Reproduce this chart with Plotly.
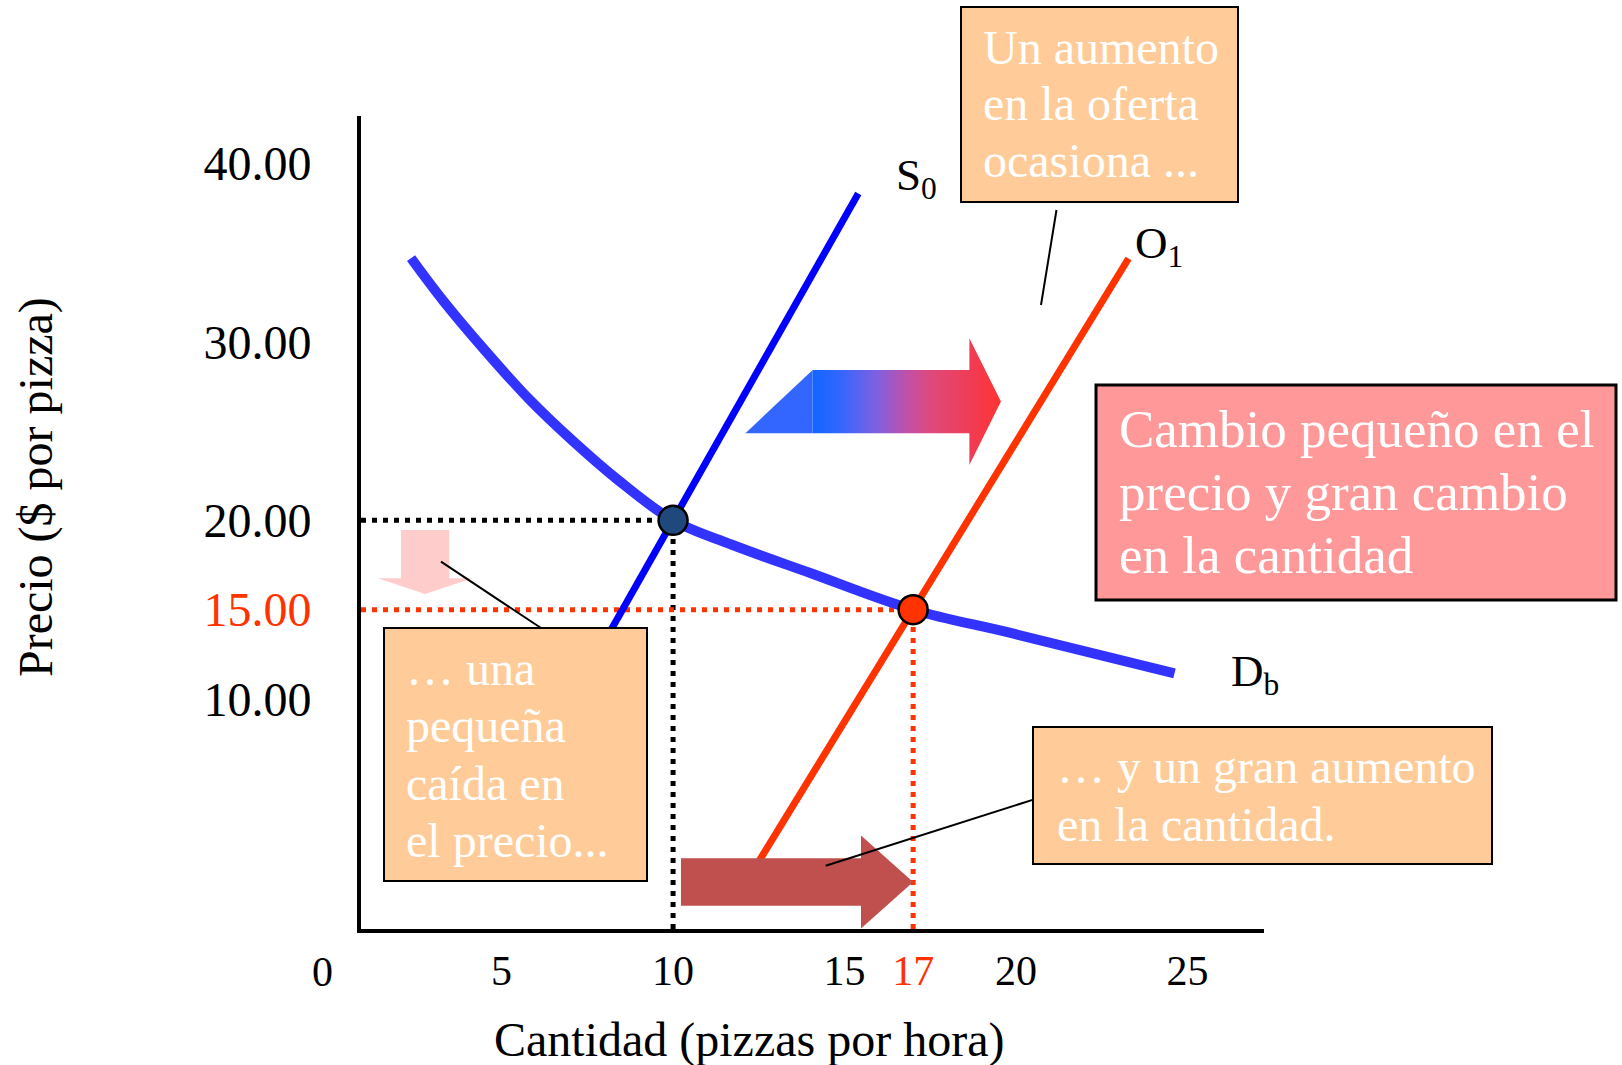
import plotly.graph_objects as go

# ---------------- data ----------------
Q_TICKS = [5, 10, 15, 17, 20, 25]
Q_TICK_LABELS = ["5", "10", "15", "17", "20", "25"]
P_TICKS = [10, 15, 20, 30, 40]
P_TICK_LABELS = ["10.00", "15.00", "20.00", "30.00", "40.00"]

# supply S0 (before), supply O1 (after)
S0_Q = [7.64, 15.4]
S0_P = [12.0, 38.3]
O1_Q = [12.37, 23.28]
O1_P = [0.5, 34.66]

# demand Db
D_Q = [2.36, 3.30, 4.56, 5.82, 7.08, 8.35, 10, 11.7, 14.0, 17, 19.90, 24.62]
D_P = [34.68, 32.29, 29.42, 26.75, 24.44, 22.33, 20, 18.65, 17.05, 15, 13.67, 11.44]

# equilibria
EQ_Q = [10, 17]
EQ_P = [20, 15]

# ---------------- layout geometry ----------------
W, H = 1622, 1065
L, R, T, B = 361, 1264, 116, 929
X_RANGE = [0.901, 27.23]
Y_RANGE = [-2.878, 42.64]

SERIF = "Times New Roman, Liberation Serif, serif"
RED = "#FF3300"


def px(xp):
    return (xp - L) / (R - L)


def py(yp):
    return (B - yp) / (B - T)


fig = go.Figure()

# dotted guide lines
dot = "5px,6px"
fig.add_trace(go.Scatter(x=[X_RANGE[0], EQ_Q[0]], y=[EQ_P[0], EQ_P[0]], mode="lines",
                         line=dict(color="black", width=5, dash=dot), hoverinfo="skip"))
fig.add_trace(go.Scatter(x=[EQ_Q[0], EQ_Q[0]], y=[Y_RANGE[0], EQ_P[0]], mode="lines",
                         line=dict(color="black", width=5, dash=dot), hoverinfo="skip"))
fig.add_trace(go.Scatter(x=[X_RANGE[0], EQ_Q[1]], y=[EQ_P[1], EQ_P[1]], mode="lines",
                         line=dict(color=RED, width=5, dash=dot), hoverinfo="skip"))
fig.add_trace(go.Scatter(x=[EQ_Q[1], EQ_Q[1]], y=[Y_RANGE[0], EQ_P[1]], mode="lines",
                         line=dict(color=RED, width=5, dash=dot), hoverinfo="skip"))

# curves
fig.add_trace(go.Scatter(x=D_Q, y=D_P, mode="lines", line=dict(color="#3333FF", width=10, shape="spline"),
                         name="Db"))
fig.add_trace(go.Scatter(x=S0_Q, y=S0_P, mode="lines", line=dict(color="#0000FF", width=7), name="S0"))
fig.add_trace(go.Scatter(x=O1_Q, y=O1_P, mode="lines", line=dict(color=RED, width=7), name="O1"))

# equilibrium points
fig.add_trace(go.Scatter(x=EQ_Q, y=EQ_P, mode="markers",
                         marker=dict(size=29, color=["#1F497D", RED], line=dict(color="black", width=2.5)),
                         name="eq"))

# quantity-change arrow (dark red)
qa_x0, qa_head, qa_tip = EQ_Q[0] + 0.23, 15.48, EQ_Q[1]
qa_yc, qa_hb, qa_hh = -0.25, 1.33, 2.6
fig.add_trace(go.Scatter(
    x=[qa_x0, qa_head, qa_head, qa_tip, qa_head, qa_head, qa_x0, qa_x0],
    y=[qa_yc + qa_hb, qa_yc + qa_hb, qa_yc + qa_hh, qa_yc, qa_yc - qa_hh, qa_yc - qa_hb, qa_yc - qa_hb,
       qa_yc + qa_hb],
    mode="lines", fill="toself", fillcolor="#C0504D", line=dict(width=0), hoverinfo="skip"))

# price-change arrow (pink, downward)
pa_xc, pa_hb, pa_hh = 2.77, 0.705, 1.38
pa_top, pa_head, pa_tip = EQ_P[0] - 0.54, 16.76, EQ_P[1] + 0.88
fig.add_trace(go.Scatter(
    x=[pa_xc - pa_hb, pa_xc + pa_hb, pa_xc + pa_hb, pa_xc + pa_hh, pa_xc, pa_xc - pa_hh, pa_xc - pa_hb,
       pa_xc - pa_hb],
    y=[pa_top, pa_top, pa_head, pa_head, pa_tip, pa_head, pa_head, pa_top],
    mode="lines", fill="toself", fillcolor="#FFCCCC", line=dict(width=0), hoverinfo="skip"))

# supply-shift arrow (gradient)
sa_left, sa_x0, sa_head, sa_tip = 12.11, 14.07, 18.64, 19.56
sa_yc, sa_hb, sa_hh = 26.65, 1.77, 3.55
fig.add_trace(go.Scatter(
    x=[sa_left, sa_x0, sa_x0, sa_left], y=[sa_yc - sa_hb, sa_yc + sa_hb, sa_yc - sa_hb, sa_yc - sa_hb],
    mode="lines", fill="toself", fillcolor="#3366FF", line=dict(width=0), hoverinfo="skip"))
fig.add_trace(go.Scatter(
    x=[sa_x0, sa_head, sa_head, sa_tip, sa_head, sa_head, sa_x0, sa_x0],
    y=[sa_yc + sa_hb, sa_yc + sa_hb, sa_yc + sa_hh, sa_yc, sa_yc - sa_hh, sa_yc - sa_hb, sa_yc - sa_hb,
       sa_yc + sa_hb],
    mode="lines", fill="toself", line=dict(width=0), hoverinfo="skip",
    fillgradient=dict(type="horizontal",
                      colorscale=[[0, "#1166FF"], [0.146, "#3366FF"], [0.342, "#8060E0"],
                                  [0.5, "#C050A8"], [0.64, "#E04878"], [0.836, "#F03C55"],
                                  [1, "#FF3333"]])))

shapes = []
annotations = []


def box(x0, y0, x1, y1, fill, lw=2):
    shapes.append(dict(type="rect", xref="paper", yref="paper", x0=px(x0), x1=px(x1), y0=py(y1), y1=py(y0),
                       fillcolor=fill, line=dict(color="black", width=lw), layer="above"))


def leader(x0, y0, x1, y1, lw=2):
    shapes.append(dict(type="line", xref="paper", yref="paper", x0=px(x0), y0=py(y0), x1=px(x1), y1=py(y1),
                       line=dict(color="black", width=lw), layer="above"))


def text(s, xp, yp, size, color="white", xanchor="left", angle=0):
    annotations.append(dict(text=s, xref="paper", yref="paper", x=px(xp), y=py(yp), xanchor=xanchor,
                            yanchor="middle", showarrow=False, textangle=angle,
                            font=dict(family=SERIF, size=size, color=color)))


# leader lines
leader(1056.5, 210, 1041, 305)
leader(441, 561.7, 541, 628)
leader(825.7, 865.7, 1033.4, 799.6)

# boxes
box(961, 7, 1238, 202, "#FFCC99")
box(1096, 385, 1616, 600, "#FF9999", lw=3)
box(384, 628, 647, 881, "#FFCC99")
box(1033, 727, 1492, 864, "#FFCC99")

for s, yb in zip(["Un aumento", "en la oferta", "ocasiona ..."], [63.3, 120, 176.7]):
    text(s, 981, yb - 16, 48)
for s, yb in zip(["Cambio pequeño en el", "precio y gran cambio", "en la cantidad"], [447.3, 510, 573.3]):
    text(s, 1117, yb - 18, 53)
for s, yb in zip(["… una", "pequeña", "caída en", "el precio..."], [684, 741.7, 799.3, 856.7]):
    text(s, 404, yb - 16, 48)
for s, yb in zip(["… y un gran aumento", "en la cantidad."], [782.7, 840]):
    text(s, 1055, yb - 16, 48)

# curve labels
text("S<sub>0</sub>", 894, 178, 45, color="black")
text("O<sub>1</sub>", 1133, 246, 45, color="black")
text("D<sub>b</sub>", 1229, 674, 45, color="black")

# axis titles and origin
text("Cantidad (pizzas por hora)", 749, 1040, 48, color="black", xanchor="center")
text("Precio ($ por pizza)", 36, 487, 48, color="black", xanchor="center", angle=-90)
text("0", 322, 972, 42, color="black", xanchor="center")


def colored(labels, ticks, hi, color):
    return [f"<span style='color:{color}'>{lab}</span>" if t == hi else lab for lab, t in zip(labels, ticks)]


fig.update_layout(
    width=W, height=H,
    margin=dict(l=L, r=W - R, t=T, b=H - B, pad=0),
    paper_bgcolor="white", plot_bgcolor="white",
    showlegend=False,
    shapes=shapes, annotations=annotations,
    xaxis=dict(range=X_RANGE, showgrid=False, zeroline=False, showline=True, linecolor="black", linewidth=4,
               ticks="", tickvals=Q_TICKS, ticktext=colored(Q_TICK_LABELS, Q_TICKS, EQ_Q[1], RED),
               tickfont=dict(family=SERIF, size=42, color="black"), ticklabelstandoff=2),
    yaxis=dict(range=Y_RANGE, showgrid=False, zeroline=False, showline=True, linecolor="black", linewidth=4,
               ticks="", tickvals=P_TICKS, ticktext=colored(P_TICK_LABELS, P_TICKS, EQ_P[1], RED),
               tickfont=dict(family=SERIF, size=48, color="black"), ticklabelstandoff=36),
)

fig.write_html("out.html", config={"displayModeBar": False},
               post_script="document.body.style.margin='0';document.body.style.overflow='hidden';")
